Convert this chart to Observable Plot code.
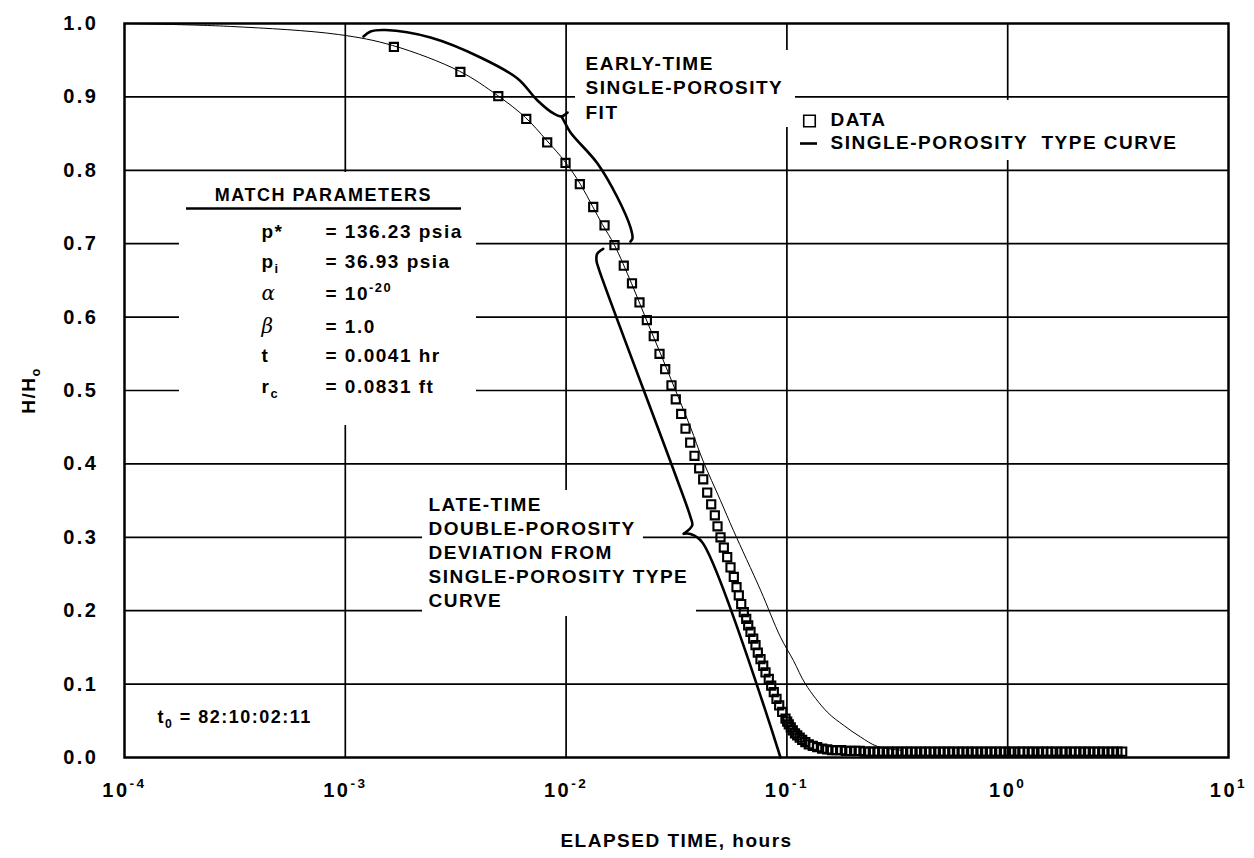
<!DOCTYPE html>
<html><head><meta charset="utf-8">
<script src="https://cdn.jsdelivr.net/npm/d3@7"></script>
<script src="https://cdn.jsdelivr.net/npm/@observablehq/plot@0.6"></script>
<style>
body{margin:0;background:#fff}
svg text{letter-spacing:1.5px}
</style>
</head><body><div id="chart"></div>
<script>
// ---- tick values ----
const xTicks = [1e-4, 1e-3, 1e-2, 1e-1, 1, 10];
const yTicks = [0, 0.1, 0.2, 0.3, 0.4, 0.5, 0.6, 0.7, 0.8, 0.9, 1.0];
const xGrid = [1e-3, 1e-2, 1e-1, 1];
const yGrid = [0.1, 0.2, 0.3, 0.4, 0.5, 0.6, 0.7, 0.8, 0.9];

// ---- data (squares): [elapsed time (hours), H/Ho] ----
const dataPoints = [
  [0.00166,0.968],[0.00332,0.934],[0.00493,0.901],[0.00660,0.870],[0.00821,0.838],
  [0.00994,0.810],[0.01154,0.781],[0.01327,0.750],[0.01493,0.725],[0.01656,0.698],
  [0.01825,0.670],[0.01988,0.646],[0.02150,0.620],[0.02321,0.596],[0.02495,0.574],
  [0.02649,0.550],[0.02811,0.529],[0.03001,0.507],[0.03139,0.488],[0.03321,0.468],
  [0.03474,0.448],[0.03648,0.429],[0.03815,0.411],[0.04007,0.394],[0.04178,0.379],
  [0.04356,0.361],[0.04541,0.345],[0.04716,0.330],[0.04850,0.315],[0.05004,0.300],
  [0.05180,0.286],[0.05366,0.273],[0.05554,0.259],[0.05749,0.246],[0.05913,0.232],
  [0.06056,0.221],[0.06210,0.209],[0.06380,0.198],[0.06542,0.189],[0.06680,0.180],
  [0.06842,0.171],[0.07037,0.162],[0.07208,0.153],[0.07383,0.143],[0.07594,0.134],
  [0.07811,0.125],[0.08000,0.116],[0.08280,0.107],[0.08490,0.098],[0.08723,0.089],
  [0.08972,0.080],[0.09228,0.071],[0.09522,0.062],[0.09855,0.053],[0.1003,0.049],
  [0.1020,0.045],[0.1041,0.041],[0.10635,0.037],[0.1088,0.033],[0.11135,0.030],
  [0.1143,0.027],[0.11729,0.024],[0.1212,0.021],[0.12564,0.018],[0.1310,0.016],
  [0.13717,0.014],[0.1445,0.012],[0.15225,0.011],[0.1600,0.010],[0.168,0.010],
  [0.176,0.010],[0.185,0.009],[0.194,0.009],[0.204,0.009],[0.214,0.009],
  [0.225,0.008],[0.236,0.008],[0.248,0.008],[0.260,0.008],[0.273,0.008],
  [0.287,0.008],[0.301,0.008],[0.316,0.008],[0.332,0.008],[0.349,0.008],
  [0.366,0.008],[0.384,0.008],[0.404,0.008],[0.424,0.008],[0.445,0.008],
  [0.467,0.008],[0.491,0.008],[0.515,0.008],[0.541,0.008],[0.568,0.008],
  [0.597,0.008],[0.626,0.008],[0.658,0.008],[0.691,0.008],[0.725,0.008],
  [0.762,0.008],[0.800,0.008],[0.840,0.008],[0.882,0.008],[0.926,0.008],
  [0.972,0.008],[1.02,0.008],[1.07,0.008],[1.13,0.008],[1.18,0.008],
  [1.24,0.008],[1.30,0.008],[1.37,0.008],[1.44,0.008],[1.51,0.008],
  [1.58,0.008],[1.66,0.008],[1.75,0.008],[1.83,0.008],[1.93,0.008],
  [2.02,0.008],[2.12,0.008],[2.23,0.008],[2.34,0.008],[2.46,0.008],
  [2.58,0.008],[2.71,0.008],[2.85,0.008],[2.99,0.008],[3.14,0.008],[3.3,0.008]
];

// ---- single-porosity type curve: [time, H/Ho] ----
const curvePoints = [
  [0.0001,1.0],[0.000302,0.996],[0.000931,0.985],[0.00164,0.970],[0.00329,0.935],
  [0.00489,0.902],[0.00654,0.872],[0.00815,0.841],[0.00993,0.811],[0.01161,0.781],
  [0.01317,0.751],[0.01462,0.726],[0.01656,0.698],[0.01978,0.646],[0.02312,0.596],
  [0.02679,0.550],[0.03132,0.500],[0.03659,0.450],[0.04160,0.405],[0.05005,0.350],
  [0.05731,0.309],[0.07597,0.228],[0.09354,0.164],[0.1071,0.132],[0.1214,0.100],
  [0.1522,0.062],[0.1804,0.044],[0.2154,0.028],[0.2572,0.015],[0.3269,0.010]
];

// ---- text ----
const paramLabels = ["p*", "p_{i}", "α", "β", "t", "r_{c}"];
const paramValues = ["= 136.23 psia", "= 36.93 psia", "= 10^{-20}", "= 1.0", "= 0.0041 hr", "= 0.0831 ft"];
const earlyLines = ["EARLY-TIME", "SINGLE-POROSITY", "FIT"];
const lateLines = ["LATE-TIME", "DOUBLE-POROSITY", "DEVIATION FROM", "SINGLE-POROSITY TYPE", "CURVE"];
const legendLines = ["DATA", "SINGLE-POROSITY  TYPE CURVE"];

// ---- annotation anchors (data units) ----
const paramRowH = [0.7166, 0.6757, 0.6322, 0.5865, 0.5470, 0.5048];
const paramLabelT = 4.173e-4, paramValueT = 8.131e-4;
const earlyT = 0.012242, earlyH = [0.9455, 0.9128, 0.8787];
const lateT = 0.0023812, lateH = [0.3447, 0.3113, 0.2793, 0.2466, 0.2139];
const legendT = 0.15756, legendH = [0.8685, 0.8372];
const bracePaths = {
  e1: [[0.001209,0.9823],[0.0013006,0.9891],[0.001521,0.9911],[0.002431,0.9809],[0.004096,0.9537],
       [0.006025,0.9251],[0.007421,0.8951],[0.008768,0.8774],[0.009532,0.8733],[0.010147,0.8787]],
  e2: [[0.009532,0.8733],[0.009763,0.8678],[0.010469,0.8515],[0.013876,0.8093],[0.017085,0.7629],
       [0.019569,0.7221],[0.019979,0.7071],[0.019569,0.7030]],
  l1: [[0.014724,0.6931],[0.013826,0.6862],[0.013725,0.6771],[0.014059,0.6658],[0.030738,0.3910],
       [0.036595,0.3274],[0.037250,0.3161],[0.034127,0.3048]],
  l2: [[0.034127,0.3048],[0.036595,0.3045],[0.041345,0.2933],[0.09355,0.0]]
};
const knockouts = [ // [x1, x2, y1, y2] white boxes behind text
  [1.774e-4, 3.928e-3, 0.4523, 0.797],
  [0.011030, 0.10938, 0.8583, 0.9632],
  [0.11170, 6.062, 0.8134, 0.8951],
  [0.0022375, 0.022416, 0.1921, 0.3638],
  [0.022416, 0.038958, 0.1921, 0.2602]
];

// ---- tables built from arrays ----
const data = dataPoints.map(([t, h]) => ({t, h}));
const curve = curvePoints.map(([t, h]) => ({t, h}));
const braces = Object.entries(bracePaths).flatMap(([id, pts]) => pts.map(([t, h]) => ({t, h, id})));
const knocks = knockouts.map(([x1, x2, y1, y2]) => ({x1, x2, y1, y2}));
const params = paramLabels.map((l, i) => ({l, v: paramValues[i], h: paramRowH[i]}));
const early = earlyLines.map((s, i) => ({s, h: earlyH[i]}));
const late = lateLines.map((s, i) => ({s, h: lateH[i]}));
const legend = legendLines.map((s, i) => ({s, h: legendH[i]}));

const FONT = "'Liberation Sans', Arial, Helvetica, sans-serif";

const chart = Plot.plot({
  width: 1254, height: 858,
  marginLeft: 124, marginRight: 26, marginTop: 23, marginBottom: 101,
  style: {fontFamily: FONT, fontSize: "20px", fontWeight: "bold", background: "white", color: "black"},
  x: {type: "log", domain: [1e-4, 10]},
  y: {domain: [0, 1]},
  marks: [
    Plot.gridX(xGrid, {stroke: "black", strokeOpacity: 1, strokeWidth: 1.7}),
    Plot.gridY(yGrid, {stroke: "black", strokeOpacity: 1, strokeWidth: 1.7}),
    Plot.rect(knocks, {x1: "x1", x2: "x2", y1: "y1", y2: "y2", fill: "white"}),
    Plot.frame({stroke: "black", strokeWidth: 2.5}),
    Plot.axisX(xTicks, {tickSize: 0, tickPadding: 25, label: null, fontSize: 20,
      tickFormat: d => "10^{" + Math.round(Math.log10(d)) + "}"}),
    Plot.axisY(yTicks, {tickSize: 0, tickPadding: 26, label: null, fontSize: 20,
      tickFormat: d3.format(".1f")}),
    Plot.line(curve, {x: "t", y: "h", stroke: "black", strokeWidth: 1, curve: "catmull-rom"}),
    Plot.dot(data, {x: "t", y: "h", symbol: "square", r: 4.6, stroke: "black", strokeWidth: 2.1, fill: "none"}),
    Plot.line(braces, {x: "t", y: "h", z: "id", stroke: "black", strokeWidth: 2.6, curve: "catmull-rom"}),
    // match parameters
    Plot.text(["MATCH PARAMETERS"], {x: 7.963e-4, y: 0.7663, text: d => d, fontSize: 18, ariaLabel: "match-title"}),
    Plot.ruleY([0.748], {x1: 1.909e-4, x2: 3.359e-3, stroke: "black", strokeWidth: 2.5}),
    Plot.text(params.filter(d => d.l !== "α" && d.l !== "β"), {x: paramLabelT, y: "h", text: "l", textAnchor: "start", fontSize: 19, ariaLabel: "params"}),
    Plot.text(params.filter(d => d.l === "α" || d.l === "β"), {x: paramLabelT, y: "h", text: "l", textAnchor: "start", fontSize: 20,
      fontStyle: "italic", fontWeight: "normal", fontFamily: "'DejaVu Serif', serif"}),
    Plot.text(params, {x: paramValueT, y: "h", text: "v", textAnchor: "start", fontSize: 19, ariaLabel: "params"}),
    Plot.text(["t_{0} = 82:10:02:11"], {x: 1.411e-4, y: 0.0545, text: d => d, textAnchor: "start", fontSize: 18}),
    // annotations
    Plot.text(early, {x: earlyT, y: "h", text: "s", textAnchor: "start", fontSize: 19}),
    Plot.text(late, {x: lateT, y: "h", text: "s", textAnchor: "start", fontSize: 19}),
    // legend
    Plot.dot([0], {x: 0.12656, y: 0.8672, symbol: "square", r: 6.5, stroke: "black", strokeWidth: 1.6, fill: "none"}),
    Plot.ruleY([0.8365], {x1: 0.11523, x2: 0.13760, stroke: "black", strokeWidth: 2.6}),
    Plot.text(legend, {x: legendT, y: "h", text: "s", textAnchor: "start", fontSize: 19}),
    // axis titles
    Plot.text(["H/H_{o}"], {frameAnchor: "left", dx: -96, rotate: -90, textAnchor: "middle", text: d => d, fontSize: 19}),
    Plot.text(["ELAPSED TIME, hours"], {frameAnchor: "bottom", dy: 89, textAnchor: "middle", text: d => d, fontSize: 19, ariaLabel: "xlabel"})
  ]
});

document.getElementById("chart").appendChild(chart);

// letter spacing tweaks
chart.querySelectorAll('g[aria-label="match-title"] text').forEach(t => t.style.letterSpacing = "3px");
chart.querySelectorAll('g[aria-label="params"] text').forEach(t => t.style.letterSpacing = "1px");
chart.querySelectorAll('g[aria-label="xlabel"] text').forEach(t => t.style.letterSpacing = "1px");
chart.querySelectorAll('g[aria-label="y-axis tick label"] text, g[aria-label="x-axis tick label"] text')
  .forEach(t => t.style.letterSpacing = "2.5px");

// rich text: _{sub} and ^{sup}
const NS = "http://www.w3.org/2000/svg";
const re = /([_^])\{([^}]*)\}/g;
chart.querySelectorAll("text").forEach(el => {
  const s = el.textContent;
  re.lastIndex = 0;
  if (!re.test(s)) return;
  re.lastIndex = 0;
  const fs = parseFloat(getComputedStyle(el).fontSize) || 20;
  while (el.firstChild) el.removeChild(el.firstChild);
  let last = 0, m, pending = 0;
  const addPlain = str => {
    if (!str) return;
    const ts = document.createElementNS(NS, "tspan");
    if (pending) ts.setAttribute("dy", -pending);
    pending = 0;
    ts.textContent = str;
    el.appendChild(ts);
  };
  while ((m = re.exec(s))) {
    addPlain(s.slice(last, m.index));
    const shift = m[1] === "_" ? 0.28 * fs : -0.42 * fs;
    const ts = document.createElementNS(NS, "tspan");
    ts.setAttribute("dy", shift - pending);
    ts.setAttribute("font-size", (0.68 * fs).toFixed(1));
    ts.textContent = m[2];
    el.appendChild(ts);
    pending = shift;
    last = re.lastIndex;
  }
  addPlain(s.slice(last));
});
</script></body></html>
